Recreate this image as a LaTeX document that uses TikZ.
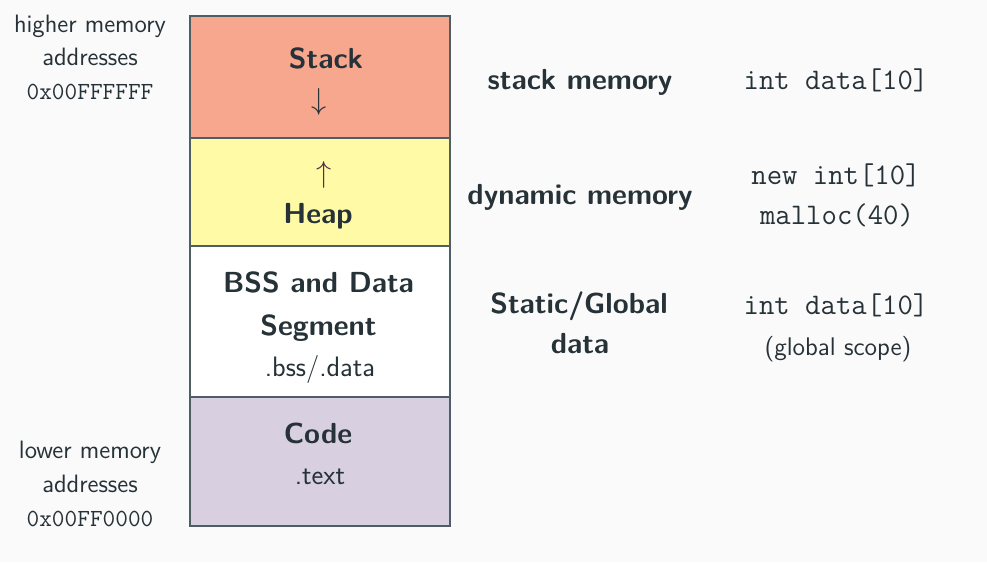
\documentclass[tikz,border=0pt]{standalone}
\usepackage{tikz}
\usepackage{amsmath}
\usetikzlibrary{calc,positioning}

\definecolor{bgc}{HTML}{FAFAFA}
\definecolor{ink}{HTML}{263238}
\definecolor{edge}{HTML}{4F5D64}
\definecolor{stackc}{HTML}{F8A78F}
\definecolor{heapc}{HTML}{FFFAA6}
\definecolor{codec}{HTML}{D8D0E1}
\definecolor{arrowc}{HTML}{5A2A4E}

\tikzset{
  seg/.style={draw=edge, line width=0.9pt, rectangle, inner sep=0pt, outer sep=0pt, minimum width=5.2cm},
  title/.style={anchor=base, text=ink, inner sep=0pt, font=\sffamily\bfseries\fontsize{16.5}{19}\selectfont},
  plain/.style={anchor=base, text=ink, inner sep=0pt, font=\sffamily\fontsize{16}{19}\selectfont},
  side/.style={anchor=base, text=ink, inner sep=0pt, font=\sffamily\fontsize{14.3}{17}\selectfont},
  addr/.style={anchor=base, text=ink, inner sep=0pt, font=\ttfamily\fontsize{14}{16}\selectfont},
  snippet/.style={anchor=base, text=ink, inner sep=0pt, font=\ttfamily\fontsize{17}{19}\selectfont}
}

\begin{document}
\begin{tikzpicture}[x=0.02cm,y=-0.02cm]
\fill[bgc] (0,0) rectangle (987,562);
\useasboundingbox (0,0) rectangle (987,562);

% memory segments
\node[seg, fill=stackc, minimum height=2.44cm] (stack) at (320,77) {};
\node[seg, fill=heapc, minimum height=2.16cm] (heap) at (320,192) {};
\node[seg, fill=white, minimum height=3.02cm] (bss) at (320,321.5) {};
\node[seg, fill=codec, minimum height=2.58cm] (code) at (320,461.5) {};

\node[title] (stacklbl) at (326,68) {Stack};
\node[text=ink, inner sep=0pt, font=\fontsize{16}{19}\selectfont] (stackarr) at (319,102) {$\downarrow$};
\node[text=arrowc, inner sep=0pt, font=\fontsize{16}{19}\selectfont] (heaparr) at (324,175) {$\uparrow$};
\node[title] (heaplbl) at (318,223) {Heap};
\node[title] (bsslbl) at (318.5,292) {BSS and Data};
\node[title] (seglbl) at (318.5,335) {Segment};
\node[plain] (bsssec) at (320,376) {.bss/.data};
\node[title] (codelbl) at (318,443) {Code};
\node[plain] (codesec) at (320,484) {.text};

% addresses on the left
\node[side] (hi1) at (90,32) {higher memory};
\node[side] (hi2) at (90,65) {addresses};
\node[addr] (hi3) at (90,99) {0x00FFFFFF};
\node[side] (lo1) at (90,458) {lower memory};
\node[side] (lo2) at (90,492) {addresses};
\node[addr] (lo3) at (90,526) {0x00FF0000};

% kinds of memory
\node[title] (kstack) at (580,89) {stack memory};
\node[title] (kdyn) at (580,204) {dynamic memory};
\node[title] (kstat1) at (579,313) {Static/Global};
\node[title] (kstat2) at (580,353) {data};

% examples
\node[snippet] (ex1) at (836,89) {int data[10]};
\node[snippet] (ex2) at (836,184) {new int[10]};
\node[snippet] (ex3) at (837,224) {malloc(40)};
\node[snippet] (ex4) at (836,314) {int data[10]};
\node[plain, font=\sffamily\fontsize{14.5}{17}\selectfont] (ex5) at (838,355) {(global scope)};
\end{tikzpicture}
\end{document}
